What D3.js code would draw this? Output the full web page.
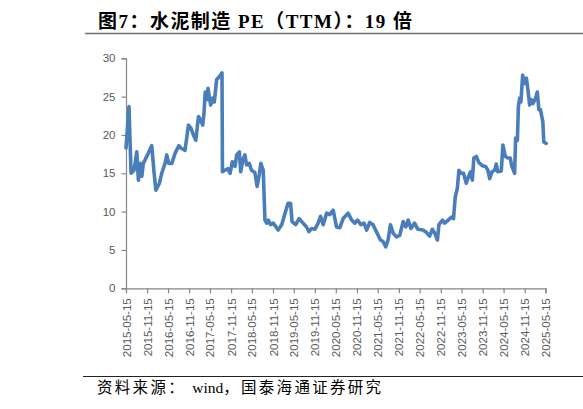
<!DOCTYPE html>
<html>
<head>
<meta charset="utf-8">
<script src="https://cdn.jsdelivr.net/npm/d3@7"></script>
<style>
  html, body { margin: 0; padding: 0; background: #fff; }
  svg { display: block; }
</style>
</head>
<body>
<svg id="chart" width="583" height="409"></svg>
<script>
const titleText = "图7：水泥制造 PE（TTM）：19 倍";
const sourceParts = ["资料来源：", "wind", "，国泰海通证券研究"];

const dates = [
"2015-05-15","2015-06-10","2015-06-28","2015-07-24","2015-08-17","2015-08-31","2015-09-15","2015-09-30","2015-10-13","2015-11-18",
"2015-12-25","2016-01-15","2016-01-30","2016-03-01","2016-03-21","2016-04-19","2016-05-04","2016-05-21","2016-06-17","2016-07-15",
"2016-08-17","2016-09-03","2016-10-10","2016-11-09","2016-11-30","2016-12-22","2017-01-12","2017-02-04","2017-02-25","2017-03-13",
"2017-03-24","2017-04-04","2017-04-17","2017-04-28","2017-05-09","2017-05-21","2017-06-08","2017-06-22","2017-07-12","2017-08-04",
"2017-08-28","2017-09-01","2017-09-23","2017-10-17","2017-11-06","2017-11-26","2017-12-19","2018-01-03","2018-01-26","2018-02-07",
"2018-02-25","2018-03-15","2018-03-30","2018-04-22","2018-05-12","2018-06-10","2018-06-30","2018-07-18","2018-08-01","2018-08-22",
"2018-09-06","2018-09-21","2018-10-05","2018-10-25","2018-11-18","2018-12-30","2019-01-30","2019-02-28","2019-03-26","2019-04-17",
"2019-04-30","2019-06-01","2019-06-30","2019-08-04","2019-09-03","2019-09-24","2019-10-17","2019-11-15","2019-12-13","2020-01-03",
"2020-01-26","2020-02-25","2020-03-23","2020-04-22","2020-05-21","2020-06-19","2020-07-18","2020-08-30","2020-09-30","2020-10-28",
"2020-11-21","2020-12-19","2021-01-15","2021-02-08","2021-03-06","2021-04-04","2021-05-09","2021-06-08","2021-06-30","2021-07-24",
"2021-08-13","2021-09-03","2021-09-26","2021-10-25","2021-11-23","2021-12-22","2022-01-15","2022-02-04","2022-02-28","2022-04-01",
"2022-04-30","2022-06-13","2022-07-12","2022-08-10","2022-09-03","2022-09-23","2022-10-17","2022-10-30","2022-11-30","2022-12-19",
"2023-01-18","2023-02-17","2023-03-06","2023-03-21","2023-04-08","2023-04-22","2023-05-12","2023-06-01","2023-06-25","2023-07-15",
"2023-08-01","2023-08-17","2023-08-30","2023-09-21","2023-10-13","2023-11-12","2023-12-10","2023-12-30","2024-01-15","2024-02-04",
"2024-02-28","2024-03-12","2024-03-26","2024-04-25","2024-05-09","2024-05-30","2024-06-22","2024-07-12","2024-07-26","2024-08-19",
"2024-08-28","2024-09-12","2024-09-21","2024-10-02","2024-10-13","2024-10-28","2024-11-12","2024-11-30","2024-12-13","2024-12-28",
"2025-01-12","2025-01-26","2025-02-17","2025-03-05","2025-03-18","2025-04-01","2025-04-22","2025-04-30","2025-05-21"
];

const peValues = [
18.3,23.7,15.0,15.4,17.8,14.1,16.3,14.6,16.3,17.4,
18.6,15.0,12.8,13.7,15.0,16.3,17.4,16.3,16.3,17.6,
18.6,18.3,18.0,21.3,20.9,20.0,19.3,22.4,21.9,21.3,
22.8,25.6,24.6,26.1,25.0,23.9,24.8,24.3,27.2,27.6,
28.1,15.2,15.4,15.6,15.0,16.5,15.9,17.4,17.8,15.2,
16.7,17.4,16.1,16.3,15.4,15.1,13.3,14.8,16.3,15.4,
8.9,8.5,8.9,8.3,8.5,7.6,8.3,9.8,11.1,11.1,
8.7,8.3,9.1,8.5,8.0,7.4,7.8,7.7,8.5,9.4,
8.3,9.8,9.6,10.2,8.0,7.9,9.1,9.8,8.9,8.5,
8.9,8.3,8.5,7.6,8.6,8.3,7.2,6.3,6.1,5.4,
6.3,8.3,7.2,6.7,6.9,8.7,8.0,8.9,7.8,8.5,
7.7,7.6,7.3,6.8,7.7,7.2,6.3,8.3,8.9,8.5,
8.9,9.3,9.1,11.9,13.0,15.4,15.0,15.0,13.7,14.6,
15.2,14.1,17.0,17.2,16.4,16.0,15.9,15.4,14.3,15.2,
15.4,16.2,15.2,15.3,18.7,17.2,17.0,17.0,15.9,15.0,
19.6,19.3,23.7,24.8,24.3,27.8,26.7,27.4,25.9,23.9,
24.6,24.1,24.8,25.6,23.3,23.3,21.7,19.1,18.9
];

const yTicks = [0, 5, 10, 15, 20, 25, 30];
const xTickLabels = [
"2015-05-15","2015-11-15","2016-05-15","2016-11-15","2017-05-15","2017-11-15","2018-05-15",
"2018-11-15","2019-05-15","2019-11-15","2020-05-15","2020-11-15","2021-05-15","2021-11-15",
"2022-05-15","2022-11-15","2023-05-15","2023-11-15","2024-05-15","2024-11-15","2025-05-15"
];

const parse = d3.timeParse("%Y-%m-%d");
const data = dates.map((d, i) => ({ date: parse(d), v: peValues[i] }));

const svg = d3.select("#chart");
const axisColor = "#868686";
const labelColor = "#595959";
const tickFont = "'Liberation Sans', Arial, sans-serif";

const x = d3.scaleTime()
  .domain([parse(xTickLabels[0]), parse(xTickLabels[xTickLabels.length - 1])])
  .range([126, 545.5]);
const y = d3.scaleLinear().domain([0, 30]).range([288.3, 58.3]);

// Title
svg.append("text")
  .attr("x", 98).attr("y", 28)
  .attr("font-family", "'Liberation Serif', 'Noto Sans CJK SC', serif")
  .attr("font-weight", "bold")
  .attr("font-size", 19)
  .attr("fill", "#000")
  .attr("textLength", 314)
  .attr("lengthAdjust", "spacing")
  .text(titleText);
svg.append("line")
  .attr("x1", 85).attr("x2", 583).attr("y1", 33.5).attr("y2", 33.5)
  .attr("stroke", "#6e6e6e").attr("stroke-width", 1.6);

// Y axis
const yAxis = d3.axisLeft(y).tickValues(yTicks).tickSize(4.5).tickPadding(6).tickFormat(d3.format("d"));
const gy = svg.append("g").attr("transform", "translate(126,0)").call(yAxis);
gy.select(".domain").attr("stroke", axisColor).attr("stroke-width", 1.2);
gy.selectAll(".tick line").attr("stroke", axisColor).attr("stroke-width", 1.2);
gy.selectAll(".tick text").attr("fill", labelColor).attr("font-size", 11.5).attr("font-family", tickFont);

// X axis
const xAxis = d3.axisBottom(x).tickValues(xTickLabels.map(parse)).tickSize(5).tickFormat(d3.timeFormat("%Y-%m-%d"));
const gx = svg.append("g").attr("transform", "translate(0,288.3)").call(xAxis);
gx.select(".domain").attr("stroke", axisColor).attr("stroke-width", 1.2);
gx.selectAll(".tick line").attr("stroke", axisColor).attr("stroke-width", 1.2);
gx.selectAll(".tick text")
  .attr("fill", labelColor).attr("font-size", 11.5).attr("font-family", tickFont)
  .attr("text-anchor", "end")
  .attr("transform", "rotate(-90)")
  .attr("x", -10).attr("y", 0).attr("dy", "0.35em");

// Line
const line = d3.line().x(d => x(d.date)).y(d => y(d.v)).curve(d3.curveLinear);
svg.append("path")
  .datum(data)
  .attr("d", line)
  .attr("fill", "none")
  .attr("stroke", "#4a7ebb")
  .attr("stroke-width", 3.6)
  .attr("stroke-linejoin", "round")
  .attr("stroke-linecap", "round");

// Source
svg.append("line")
  .attr("x1", 83).attr("x2", 583).attr("y1", 376.5).attr("y2", 376.5)
  .attr("stroke", "#222").attr("stroke-width", 1.2);
const src = svg.append("text")
  .attr("x", 97).attr("y", 393)
  .attr("font-family", "'Liberation Serif', 'Noto Sans CJK SC', serif")
  .attr("font-size", 15.5)
  .attr("fill", "#000");
src.append("tspan").attr("letter-spacing", 2.3).text(sourceParts[0] + " ");
src.append("tspan").text(sourceParts[1]);
src.append("tspan").attr("letter-spacing", 2.3).text(sourceParts[2]);
</script>
</body>
</html>
